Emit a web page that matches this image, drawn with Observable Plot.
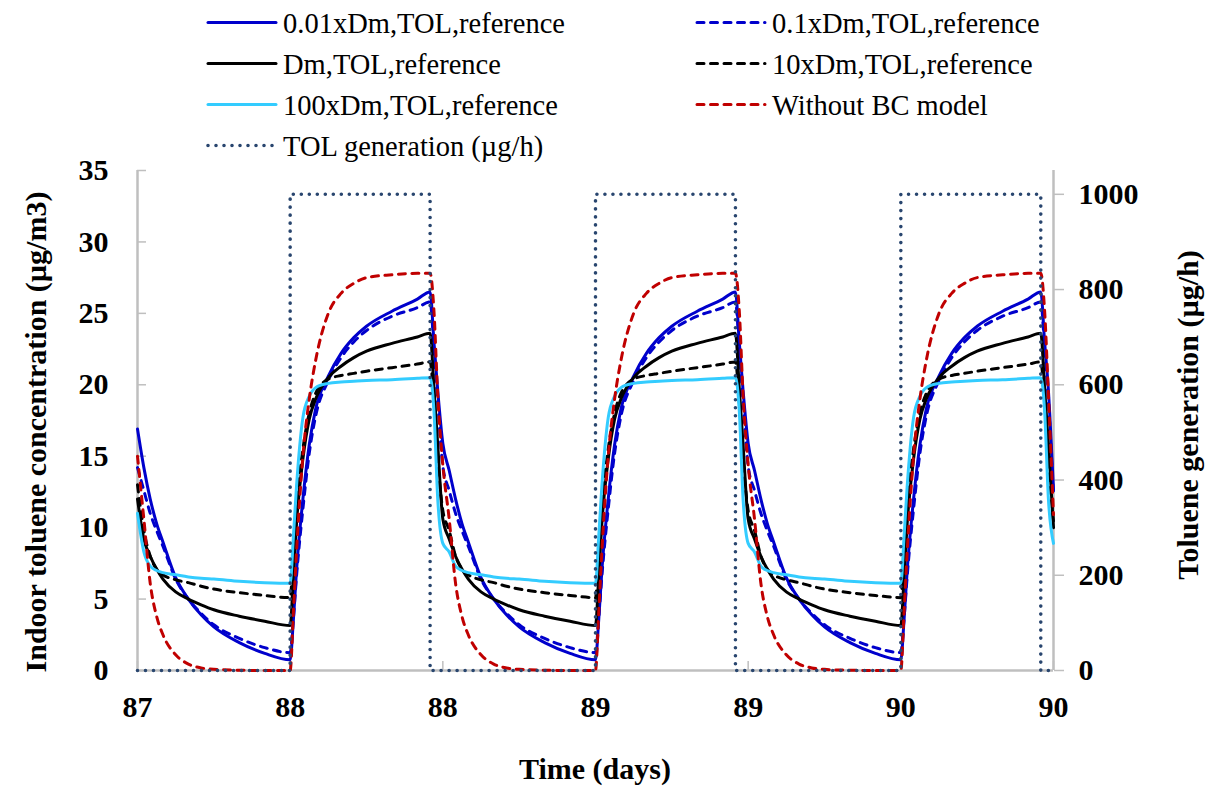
<!DOCTYPE html>
<html>
<head>
<meta charset="utf-8">
<script src="https://cdn.jsdelivr.net/npm/d3@7"></script>
<script src="https://cdn.jsdelivr.net/npm/@observablehq/plot@0.6"></script>
<style>
html, body { margin: 0; padding: 0; background: #ffffff; }
#wrap { position: relative; width: 1209px; height: 787px; overflow: hidden; background: #ffffff; }
#wrap > svg { position: absolute; left: 0; top: 0; }
#wrap text { font-family: "Liberation Serif", "Times New Roman", Times, serif; }
</style>
</head>
<body>
<div id="wrap"></div>
<script>
// ---------------- data ----------------
const startDay = 87;
// hours after day 87.0
const hours = [
  0,0.5,1,1.5,2,3,4,5,6,8,10,12,12.25,12.5,13,13.5,14,15,16,17,18,20,22,23,23.3,23.6,
  24,24.5,25,25.5,26,27,28,29,30,32,34,36,36.25,36.5,37,37.5,38,39,40,41,42,44,46,47,47.3,47.6,
  48,48.5,49,49.5,50,51,52,53,54,56,58,60,60.25,60.5,61,61.5,62,63,64,65,66,68,70,71,71.3,71.6,
  72
];
// 0.01xDm,TOL,reference (µg/m3)
const conc001 = [
  16.9,14.2,12.0,10.3,9.0,6.5,5.0,3.9,3.05,1.95,1.2,0.75,3.5,7.0,12.0,15.8,18.3,20.6,22.2,23.3,24.1,25.15,26.0,26.5,23.0,19.6,
  15.9,14.0,12.0,10.3,9.0,6.5,5.0,3.9,3.05,1.95,1.2,0.75,3.5,7.0,12.0,15.8,18.3,20.6,22.2,23.3,24.1,25.15,26.0,26.5,23.0,19.6,
  15.9,14.0,12.0,10.3,9.0,6.5,5.0,3.9,3.05,1.95,1.2,0.75,3.5,7.0,12.0,15.8,18.3,20.6,22.2,23.3,24.1,25.15,26.0,26.5,23.0,19.6,
  12.6
];
// 0.1xDm,TOL,reference
const conc01 = [
  14.2,12.6,11.0,9.8,8.7,6.4,5.0,4.0,3.2,2.25,1.6,1.25,3.6,6.6,11.3,15.2,17.8,20.3,21.9,23.0,23.8,24.8,25.4,25.8,22.6,18.8,
  14.3,12.6,11.0,9.8,8.7,6.4,5.0,4.0,3.2,2.25,1.6,1.25,3.6,6.6,11.3,15.2,17.8,20.3,21.9,23.0,23.8,24.8,25.4,25.8,22.6,18.8,
  14.3,12.6,11.0,9.8,8.7,6.4,5.0,4.0,3.2,2.25,1.6,1.25,3.6,6.6,11.3,15.2,17.8,20.3,21.9,23.0,23.8,24.8,25.4,25.8,22.6,18.8,
  12.2
];
// Dm,TOL,reference
const concDm = [
  12.0,9.2,8.0,7.1,6.4,5.5,5.0,4.6,4.25,3.8,3.45,3.15,6.5,10.3,14.8,17.6,19.0,20.5,21.3,21.9,22.35,22.9,23.35,23.6,19.8,15.8,
  10.6,9.2,8.0,7.1,6.4,5.5,5.0,4.6,4.25,3.8,3.45,3.15,6.5,10.3,14.8,17.6,19.0,20.5,21.3,21.9,22.35,22.9,23.35,23.6,19.8,15.8,
  10.6,9.2,8.0,7.1,6.4,5.5,5.0,4.6,4.25,3.8,3.45,3.15,6.5,10.3,14.8,17.6,19.0,20.5,21.3,21.9,22.35,22.9,23.35,23.6,19.8,15.8,
  10.0
];
// 10xDm,TOL,reference
const conc10 = [
  13.0,9.8,8.0,7.1,6.7,6.35,6.15,5.9,5.7,5.45,5.25,5.1,8.3,11.5,15.5,18.0,19.4,20.4,20.65,20.8,20.95,21.2,21.45,21.6,18.8,14.8,
  11.2,9.8,8.0,7.1,6.7,6.35,6.15,5.9,5.7,5.45,5.25,5.1,8.3,11.5,15.5,18.0,19.4,20.4,20.65,20.8,20.95,21.2,21.45,21.6,18.8,14.8,
  11.2,9.8,8.0,7.1,6.7,6.35,6.15,5.9,5.7,5.45,5.25,5.1,8.3,11.5,15.5,18.0,19.4,20.4,20.65,20.8,20.95,21.2,21.45,21.6,18.8,14.8,
  10.4
];
// 100xDm,TOL,reference
const conc100 = [
  11.0,8.3,7.3,7.0,6.85,6.7,6.55,6.45,6.4,6.25,6.15,6.1,9.3,12.9,17.7,19.2,19.8,20.1,20.2,20.25,20.3,20.35,20.45,20.5,18.2,12.0,
  8.9,8.3,7.3,7.0,6.85,6.7,6.55,6.45,6.4,6.25,6.15,6.1,9.3,12.9,17.7,19.2,19.8,20.1,20.2,20.25,20.3,20.35,20.45,20.5,18.2,12.0,
  8.9,8.3,7.3,7.0,6.85,6.7,6.55,6.45,6.4,6.25,6.15,6.1,9.3,12.9,17.7,19.2,19.8,20.1,20.2,20.25,20.3,20.35,20.45,20.5,18.2,12.0,
  8.9
];
// Without BC model
const concNoBC = [
  15.0,10.6,6.1,3.8,2.5,1.1,0.45,0.18,0.08,0.02,0,0,4.0,8.3,15.0,19.0,21.7,25.0,26.4,27.1,27.5,27.7,27.8,27.8,25.2,19.3,
  14.4,10.6,6.1,3.8,2.5,1.1,0.45,0.18,0.08,0.02,0,0,4.0,8.3,15.0,19.0,21.7,25.0,26.4,27.1,27.5,27.7,27.8,27.8,25.2,19.3,
  14.4,10.6,6.1,3.8,2.5,1.1,0.45,0.18,0.08,0.02,0,0,4.0,8.3,15.0,19.0,21.7,25.0,26.4,27.1,27.5,27.7,27.8,27.8,25.2,19.3,
  10.9
];
// TOL generation (µg/h), secondary axis
const genHours = [0,12,12,23,23,36,36,47,47,60,60,71,71,72];
const genRate  = [0,0,1000,1000,0,0,1000,1000,0,0,1000,1000,0,0];

const xTicks = [87, 87.5, 88, 88.5, 89, 89.5, 90];
const xTickLabels = ["87","88","88","89","89","90","90"];
const yTicks = [0,5,10,15,20,25,30,35];
const y2Ticks = [0,200,400,600,800,1000];
const yMax = 35;
const y2Max = 1050;

const seriesNames = ["0.01xDm,TOL,reference","0.1xDm,TOL,reference","Dm,TOL,reference","10xDm,TOL,reference","100xDm,TOL,reference","Without BC model"];
const genName = "TOL generation (µg/h)";
const xTitle = "Time (days)";
const yTitle = "Indoor toluene concentration (µg/m3)";
const y2Title = "Toluene generation (µg/h)";

// ---------------- styles ----------------
const serif = '"Liberation Serif", "Times New Roman", Times, serif';
const gray = "#bfbfbf";
const dash = "7 6.5";
const seriesStyle = [
  {stroke: "#0000CC", dash: null},
  {stroke: "#0000CC", dash: dash},
  {stroke: "#000000", dash: null},
  {stroke: "#000000", dash: dash},
  {stroke: "#33CCFF", dash: null},
  {stroke: "#C00000", dash: dash}
];
const genStyle = {stroke: "#29466F", dash: "0 8"};

const seriesValues = [conc001, conc01, concDm, conc10, conc100, concNoBC];
const seriesRows = seriesValues.map(vals => hours.map((h, i) => ({t: startDay + h / 24, v: vals[i]})));
const genRows = genHours.map((h, i) => ({t: startDay + h / 24, v: genRate[i] * yMax / y2Max}));

const lineMarks = seriesRows.map((rows, k) => Plot.line(rows, {
  x: "t", y: "v", curve: "monotone-x",
  stroke: seriesStyle[k].stroke, strokeWidth: 3,
  strokeDasharray: seriesStyle[k].dash || undefined,
  strokeLinecap: "round", strokeLinejoin: "round"
}));

const chart = Plot.plot({
  width: 1209, height: 787,
  marginLeft: 137, marginRight: 156, marginTop: 170, marginBottom: 117,
  x: {domain: [xTicks[0], xTicks[xTicks.length - 1]], label: null},
  y: {domain: [0, yMax], label: null},
  style: {fontFamily: serif, background: "#ffffff", color: "#000000"},
  marks: [
    Plot.ruleY([0], {stroke: gray, strokeWidth: 2.5}),
    Plot.ruleX([xTicks[0], xTicks[xTicks.length - 1]], {stroke: gray, strokeWidth: 2.5}),
    Plot.axisX(xTicks, {anchor: "bottom", tickSize: 9, dy: -9, tickFormat: () => "", stroke: gray, strokeWidth: 1.5, label: null}),
    Plot.axisX(xTicks, {anchor: "bottom", tickSize: 0, tickPadding: 25, tickFormat: d => xTickLabels[xTicks.indexOf(d)], fontSize: 30, fontWeight: "bold", fill: "#000000", label: null}),
    Plot.axisY(yTicks, {anchor: "left", tickSize: 9, dx: 9, tickFormat: () => "", stroke: gray, strokeWidth: 1.5, label: null}),
    Plot.axisY(yTicks, {anchor: "left", tickSize: 0, tickPadding: 29, tickFormat: d => String(d), fontSize: 30, fontWeight: "bold", fill: "#000000", label: null}),
    Plot.axisY(y2Ticks.map(v => v * yMax / y2Max), {anchor: "right", tickSize: 10, tickFormat: () => "", stroke: gray, strokeWidth: 1.5, label: null}),
    Plot.axisY(y2Ticks.map(v => v * yMax / y2Max), {anchor: "right", tickSize: 0, tickPadding: 25, tickFormat: d => String(Math.round(d * y2Max / yMax)), fontSize: 30, fontWeight: "bold", fill: "#000000", label: null}),
    ...lineMarks,
    Plot.line(genRows, {x: "t", y: "v", stroke: genStyle.stroke, strokeWidth: 3.6, strokeDasharray: genStyle.dash, strokeLinecap: "round"})
  ]
});

const wrap = document.getElementById("wrap");
wrap.appendChild(chart);

// ---------------- overlay: legend and axis titles ----------------
const ov = d3.select(wrap).append("svg")
  .attr("width", 1209).attr("height", 787)
  .style("pointer-events", "none")
  .style("font-family", serif);

const legendItems = seriesNames.map((name, k) => ({name, style: seriesStyle[k]}));
legendItems.push({name: genName, style: genStyle});
const colX = [[208, 276, 283], [697, 765, 772]];
const rowY = [22.5, 63.5, 104.5, 145.5];
legendItems.forEach((it, i) => {
  const col = i < 6 ? i % 2 : 0;
  const row = Math.floor(i / 2);
  const [x1, x2, tx] = colX[col];
  const y = rowY[row];
  ov.append("line")
    .attr("x1", x1).attr("x2", x2).attr("y1", y).attr("y2", y)
    .attr("stroke", it.style.stroke)
    .attr("stroke-width", it.style === genStyle ? 3.6 : 3)
    .attr("stroke-linecap", "round")
    .attr("stroke-dasharray", it.style.dash || null);
  ov.append("text")
    .attr("x", tx).attr("y", y + 10)
    .attr("font-family", serif)
    .attr("font-size", 28.5)
    .attr("fill", "#000")
    .text(it.name);
});

ov.append("text")
  .attr("x", 595).attr("y", 779)
  .attr("text-anchor", "middle")
  .attr("font-family", serif)
  .attr("font-size", 30).attr("font-weight", "bold")
  .text(xTitle);

ov.append("text")
  .attr("transform", "translate(46,432) rotate(-90)")
  .attr("text-anchor", "middle")
  .attr("font-family", serif)
  .attr("font-size", 30).attr("font-weight", "bold")
  .text(yTitle);

ov.append("text")
  .attr("transform", "translate(1198,415) rotate(-90)")
  .attr("text-anchor", "middle")
  .attr("font-family", serif)
  .attr("font-size", 30).attr("font-weight", "bold")
  .text(y2Title);
</script>
</body>
</html>
